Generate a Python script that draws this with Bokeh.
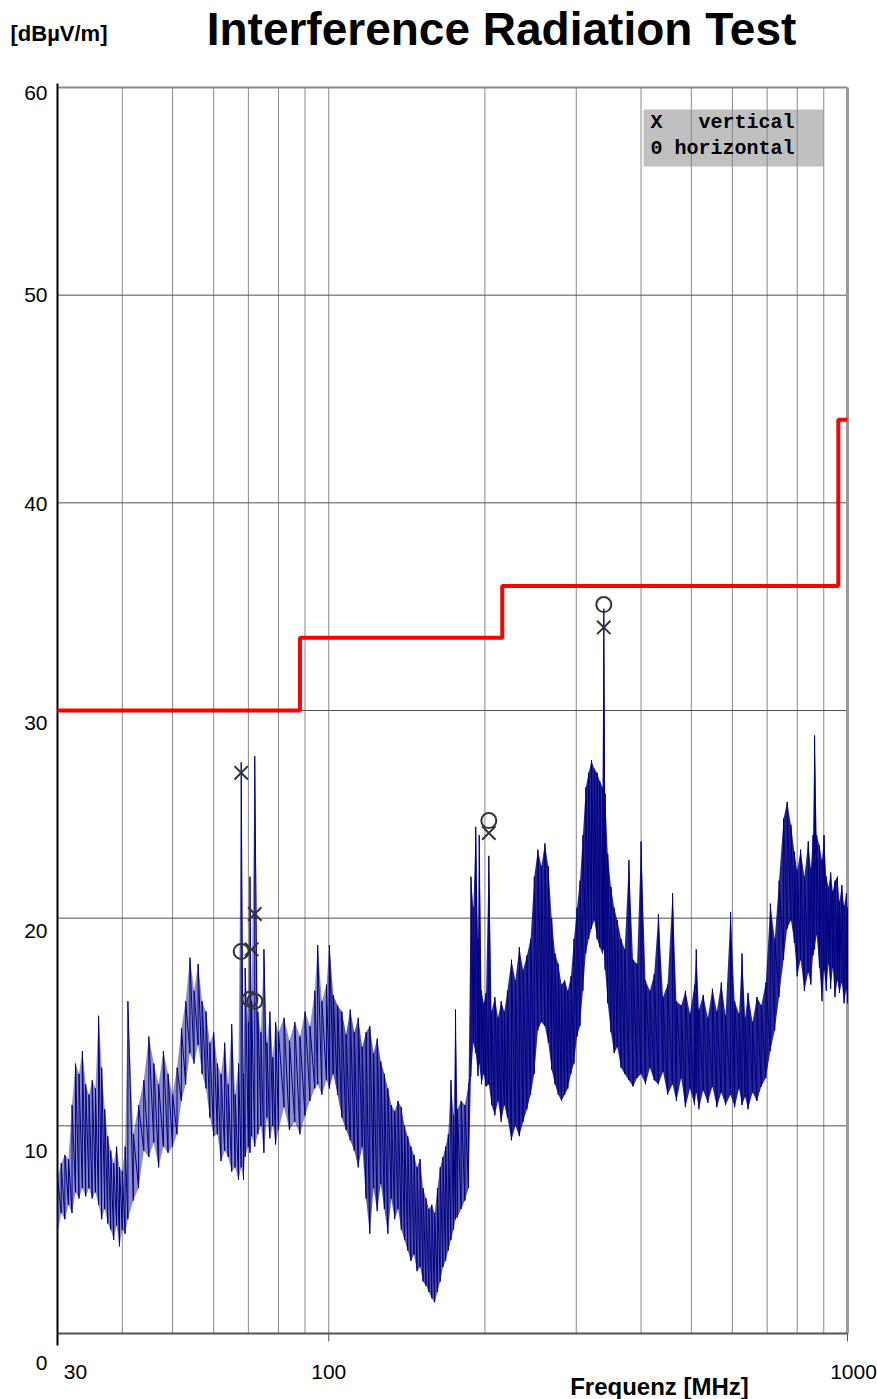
import numpy as np
from bokeh.plotting import figure
from bokeh.models import Label, Range1d
from bokeh.embed import file_html
from bokeh.resources import INLINE

# ---------------------------------------------------------------- data
# limit line, dBµV/m, band edges in MHz
limit_edges = [30, 88, 216, 960, 1000]
limit_levels = [30.0, 33.5, 36.0, 44.0]

# final measurements (quasi-peak), vertical and horizontal polarisation
vert_freq = [67.8, 71.0, 72.0, 203.5, 339.0]
vert_level = [27.0, 18.5, 20.2, 24.1, 34.0]
horiz_freq = [67.8, 70.5, 72.0, 203.5, 339.0]
horiz_level = [18.4, 16.1, 16.0, 24.7, 35.1]

# pre-scan: frequency (MHz) with lowest and highest reading in each step
scan_freq = [
    30.0, 30.5, 31.0, 31.5, 32.0, 32.5, 33.0, 33.5, 34.0, 34.5,
    35.0, 35.5, 36.0, 36.5, 37.0, 37.5, 38.0, 38.5, 39.0, 39.5,
    40.0, 40.5, 41.0, 42.0, 43.0, 44.0, 45.0, 46.0, 47.0, 48.0,
    49.0, 50.0, 51.0, 52.0, 53.0, 54.0, 55.0, 56.0, 57.0, 58.0,
    59.0, 60.0, 61.0, 62.0, 63.0, 64.0, 65.0, 66.0, 67.0, 67.8,
    68.5, 69.0, 70.0, 70.5, 71.0, 72.0, 73.0, 74.0, 75.0, 76.0,
    77.0, 78.0, 79.0, 80.0, 82.0, 84.0, 86.0, 88.0, 90.0, 92.0,
    94.0, 95.2, 97.0, 99.0, 100.3, 102.0, 104.0, 106.0, 108.0, 110.0,
    112.0, 114.0, 116.0, 118.0, 120.0, 122.0, 124.0, 126.0, 128.0, 130.0,
    132.0, 134.0, 136.0, 138.0, 140.0, 142.0, 144.0, 146.0, 148.0, 150.0,
    152.0, 154.0, 156.0, 158.0, 160.0, 162.0, 164.0, 166.0, 168.0, 170.0,
    172.0, 174.0, 175.5, 177.0, 180.0, 183.0, 186.0, 188.0, 190.0, 192.0,
    194.0, 195.0, 197.0, 199.0, 201.0, 203.5, 206.0, 209.0, 212.0, 215.0,
    218.0, 221.0, 225.0, 229.0, 233.0, 237.0, 241.0, 245.0, 249.0, 253.0,
    257.0, 261.0, 265.0, 269.0, 273.0, 277.0, 281.0, 285.0, 289.0, 293.0,
    297.0, 301.0, 305.0, 309.0, 313.0, 317.0, 321.0, 325.0, 329.0, 333.0,
    337.0, 339.0, 341.0, 345.0, 350.0, 355.0, 360.0, 366.0, 372.0, 379.0,
    386.0, 393.0, 400.0, 408.0, 416.0, 424.0, 432.0, 441.0, 450.0, 460.0,
    468.0, 478.0, 487.0, 497.0, 507.0, 511.0, 517.0, 527.0, 538.0, 549.0,
    560.0, 571.0, 582.0, 595.0, 606.0, 618.0, 626.0, 635.0, 643.0, 656.0,
    669.0, 682.0, 696.0, 710.0, 724.0, 738.0, 753.0, 765.0, 778.0, 790.0,
    800.0, 812.0, 826.0, 840.0, 850.0, 858.0, 864.0, 872.0, 883.0, 893.0,
    901.0, 910.0, 919.0, 928.0, 937.0, 946.0, 956.0, 965.0, 975.0, 985.0,
    995.0, 1000.0,
]
scan_min = [
    4.8, 5.8, 5.5, 6.2, 5.8, 6.8, 6.5, 7.0, 6.6, 7.0,
    6.5, 6.8, 6.2, 5.5, 6.0, 5.3, 5.0, 4.5, 5.2, 4.2,
    5.0, 4.8, 5.5, 6.4, 7.0, 8.8, 8.5, 9.2, 8.0, 9.0,
    8.7, 9.0, 9.6, 11.2, 12.0, 13.5, 13.0, 13.9, 12.5, 11.8,
    10.4, 9.5, 9.6, 8.3, 8.8, 8.5, 7.8, 8.0, 7.4, 8.0,
    7.4, 8.5, 9.0, 8.7, 9.5, 9.0, 9.6, 10.0, 8.7, 10.4,
    9.4, 10.0, 9.1, 9.8, 10.9, 9.8, 10.2, 9.6, 10.5, 11.2,
    11.8, 12.0, 11.5, 12.2, 11.8, 12.5, 11.5, 10.4, 9.8, 9.3,
    8.8, 8.0, 9.0, 6.5, 4.8, 7.0, 5.9, 7.2, 6.0, 4.8,
    6.5, 5.5, 6.0, 5.0, 4.5, 4.0, 3.5, 3.8, 3.0, 3.2,
    2.5, 2.3, 2.0, 1.7, 1.5, 2.0, 2.5, 3.2, 3.5, 4.0,
    4.5, 5.0, 5.5, 5.6, 6.0, 6.4, 7.0, 12.4, 14.0, 13.5,
    12.4, 13.0, 12.0, 12.5, 11.9, 12.0, 11.0, 10.5, 11.2, 10.2,
    11.0, 10.4, 9.3, 10.0, 9.5, 10.2, 10.8, 11.5, 12.5, 14.6,
    15.0, 14.8, 14.0, 12.7, 12.0, 11.5, 11.2, 11.5, 11.8, 12.5,
    13.0, 14.3, 14.8, 16.5, 18.3, 19.0, 19.5, 19.9, 19.0, 18.6,
    18.3, 18.5, 17.5, 15.9, 14.5, 13.5, 13.8, 12.8, 12.5, 12.2,
    11.9, 12.3, 12.5, 12.0, 12.8, 12.2, 12.0, 12.6, 11.5, 12.0,
    11.2, 12.3, 10.9, 11.8, 11.0, 11.6, 10.8, 11.7, 11.1, 11.9,
    10.9, 11.6, 11.0, 11.5, 10.9, 11.8, 11.0, 11.4, 10.8, 11.6,
    11.2, 11.9, 12.3, 13.6, 14.6, 16.2, 18.0, 19.5, 19.9, 18.8,
    17.2, 18.0, 16.5, 17.4, 16.8, 18.2, 18.5, 19.2, 17.6, 16.0,
    17.5, 16.5, 17.8, 16.6, 17.6, 16.2, 17.0, 16.4, 16.9, 15.9,
    16.6, 15.9,
]
scan_max = [
    7.5, 8.2, 8.6, 8.4, 11.0, 13.0, 12.5, 13.6, 12.0, 11.5,
    12.2, 11.8, 15.3, 12.8, 10.8, 9.5, 8.8, 8.2, 9.0, 8.0,
    7.8, 9.0, 16.0, 9.6, 11.0, 12.2, 14.3, 13.0, 12.0, 13.6,
    12.5, 11.5, 12.8, 14.7, 16.0, 18.1, 16.5, 17.8, 16.0, 15.5,
    14.0, 14.5, 13.0, 12.5, 14.0, 12.0, 14.9, 11.5, 13.0, 27.5,
    12.5, 17.6, 15.0, 22.0, 16.0, 27.8, 15.5, 14.5, 18.5, 14.0,
    15.5, 13.3, 15.0, 14.5, 15.2, 14.1, 15.0, 14.3, 15.5, 14.8,
    16.5, 18.7, 16.0, 16.8, 18.7, 16.3, 15.8, 15.5, 14.4, 15.6,
    14.5, 15.2, 13.8, 14.5, 14.8, 13.5, 14.2, 13.1, 12.5, 11.8,
    11.0, 10.7, 11.2, 10.9, 10.0, 9.5, 9.0, 8.6, 8.0, 8.4,
    7.0, 6.5, 6.0, 6.2, 5.8, 7.0, 8.0, 8.5, 9.0, 9.6,
    12.2, 10.5, 15.6, 10.8, 11.2, 11.0, 12.0, 22.0, 20.5, 24.4,
    19.0, 24.0, 16.5, 15.9, 16.4, 23.0, 15.5, 16.2, 15.2, 16.0,
    15.5, 16.5, 18.0, 17.0, 18.6, 17.5, 18.2, 19.0, 22.0, 23.3,
    22.5, 23.6, 22.5, 20.0, 18.3, 17.8, 16.8, 17.0, 16.5, 17.2,
    19.0, 20.5, 21.8, 24.0, 26.3, 27.0, 27.6, 27.2, 27.0, 26.6,
    26.3, 34.9, 26.0, 23.1, 21.5, 20.5, 19.9, 19.0, 18.5, 22.8,
    18.0, 17.8, 23.7, 17.0, 16.5, 17.3, 20.2, 16.2, 16.8, 21.2,
    16.0, 15.8, 16.5, 15.4, 16.8, 18.5, 15.6, 16.3, 15.2, 16.6,
    15.5, 16.9, 15.3, 20.3, 16.0, 15.4, 18.3, 15.2, 16.4, 15.0,
    16.2, 15.8, 16.9, 20.7, 19.0, 21.8, 24.8, 25.6, 24.5, 23.2,
    22.3, 23.3, 22.0, 23.7, 22.4, 24.0, 28.8, 24.0, 23.5, 22.8,
    24.0, 22.0, 21.5, 22.2, 21.3, 21.8, 22.0, 20.8, 21.6, 20.6,
    21.2, 20.5,
]

y_ticks = [60, 50, 40, 30, 20, 10, 0]
y_grid = [10, 20, 30, 40, 50]
x_ticks = [30, 100, 1000]
x_grid = [40, 50, 60, 70, 80, 90, 100, 200, 300, 400, 500, 600, 700, 800, 900]

# ---------------------------------------------------------------- layout
W, H = 877, 1399
# chart rectangle inside the canvas (px)
C_LEFT, C_RIGHT, C_TOP, C_BOTTOM = 57, 847, 87, 1333
F_MIN, F_MAX, DB_MIN, DB_MAX = 30.0, 1000.0, 0.0, 60.0
PX_PER_DEC = (C_RIGHT - C_LEFT) / np.log10(F_MAX / F_MIN)
PX_PER_DB = (C_BOTTOM - C_TOP) / (DB_MAX - DB_MIN)
SANS = "Liberation Sans"
MONO = "Liberation Mono"
NAVY = "#000080"
INK = "#333333"
# vertical nudge (px, downward) of each y tick label
y_label_drop = [5, 0, 1, 12, 13, 25, 29]
# horizontal nudge (px) of each x tick label
x_label_shift = [18, 0, 6]

# the frame spans the whole canvas; ranges are widened so that the chart
# rectangle lands on C_LEFT..C_RIGHT / C_TOP..C_BOTTOM
x_range = Range1d(F_MIN * 10 ** (-C_LEFT / PX_PER_DEC),
                  F_MAX * 10 ** ((W - C_RIGHT) / PX_PER_DEC))
y_range = Range1d(DB_MIN - (H - C_BOTTOM) / PX_PER_DB,
                  DB_MAX + C_TOP / PX_PER_DB)

p = figure(width=W, height=H, x_axis_type="log", x_axis_location=None,
           y_axis_location=None, x_range=x_range, y_range=y_range,
           output_backend="svg", toolbar_location=None, min_border=0)
p.background_fill_color = "white"
p.border_fill_color = "white"
p.outline_line_color = None
p.grid.visible = False

px_db = 1.0 / PX_PER_DB          # one pixel, in dB
px_dec = 1.0 / PX_PER_DEC        # one pixel, in decades

# grid
p.segment(x0=x_grid, y0=DB_MIN, x1=x_grid, y1=DB_MAX, line_color="#888888", line_width=1)
p.segment(x0=F_MIN, y0=y_grid, x1=F_MAX, y1=y_grid, line_color="#505050", line_width=1)

# chart border: top and right in grey, x axis dark grey, y axis black
p.segment(x0=[F_MIN], y0=[DB_MAX], x1=[F_MAX], y1=[DB_MAX], line_color="#8a8a8a", line_width=2)
p.segment(x0=[F_MAX], y0=[DB_MIN], x1=[F_MAX], y1=[DB_MAX], line_color="#999999", line_width=3)
p.segment(x0=[F_MIN], y0=[DB_MIN], x1=[F_MAX], y1=[DB_MIN], line_color="#555555", line_width=2)
p.segment(x0=x_ticks[1:], y0=DB_MIN, x1=x_ticks[1:], y1=DB_MIN - 8 * px_db,
          line_color="#555555", line_width=1)
p.segment(x0=[F_MIN], y0=[DB_MIN - 12 * px_db], x1=[F_MIN], y1=[DB_MAX + 4 * px_db],
          line_color="black", line_width=2)

# scan trace: shaded spread between readings, then each step drawn from
# its lowest to its highest reading
freq = np.asarray(scan_freq)
lo = np.asarray(scan_min)
hi = np.asarray(scan_max)
for sel, alpha in [(freq <= 100.3, 0.45),
                   ((freq >= 100.3) & (freq <= 186), 0.65),
                   (freq >= 186, 0.85)]:
    p.varea(x=freq[sel], y1=lo[sel], y2=hi[sel], fill_color=NAVY, fill_alpha=alpha)
trace_x = np.repeat(freq, 2)
trace_y = np.column_stack([lo, hi]).ravel()
p.line(trace_x, trace_y, line_color=NAVY, line_width=1)

# limit line
p.step(x=limit_edges, y=limit_levels + [limit_levels[-1]], mode="after",
       line_color="#ff0000", line_width=4)

# final measurement markers
p.scatter(vert_freq, vert_level, marker="x", size=19, line_color=INK, line_width=2)
p.scatter(horiz_freq, horiz_level, marker="circle", size=15, fill_color=None,
          line_color=INK, line_width=2)

# legend box (data position of its corners)
p.quad(left=[F_MIN * 10 ** ((643 - C_LEFT) * px_dec)],
       right=[F_MIN * 10 ** ((823 - C_LEFT) * px_dec)],
       bottom=[DB_MAX - (166 - C_TOP) * px_db], top=[DB_MAX - (109 - C_TOP) * px_db],
       fill_color="#c0c0c0", line_color=None, level="underlay")


def canvas_label(text, cx, cy, size, font=SANS, style="normal", align="center"):
    return Label(x=cx, y=H - cy, x_units="screen", y_units="screen",
                 text=text, text_font=font, text_font_size=f"{size}px",
                 text_font_style=style, text_align=align, text_baseline="middle",
                 text_color="black")


NB = "\u00a0"
p.add_layout(canvas_label(f"X{NB*3}vertical", 650, 122, 20, font=MONO, style="bold", align="left"))
p.add_layout(canvas_label(f"0{NB}horizontal", 650, 148, 20, font=MONO, style="bold", align="left"))

# tick labels
for v, drop in zip(y_ticks, y_label_drop):
    p.add_layout(Label(x=F_MIN, y=v, x_offset=-10, y_offset=-drop, text=str(v),
                       text_font=SANS, text_font_size="21px", text_align="right",
                       text_baseline="middle", text_color="black"))
for f, shift in zip(x_ticks, x_label_shift):
    p.add_layout(Label(x=f, y=DB_MIN, x_offset=shift, y_offset=-38, text=str(f),
                       text_font=SANS, text_font_size="21px", text_align="center",
                       text_baseline="middle", text_color="black"))

# titles
p.add_layout(canvas_label("Interference Radiation Test", 501, 28, 46, style="bold"))
p.add_layout(canvas_label("[dBµV/m]", 10, 33, 22, style="bold", align="left"))
p.add_layout(canvas_label("Frequenz [MHz]", 659, 1386, 24, style="bold"))

open("out.html", "w").write(file_html(p, INLINE))
